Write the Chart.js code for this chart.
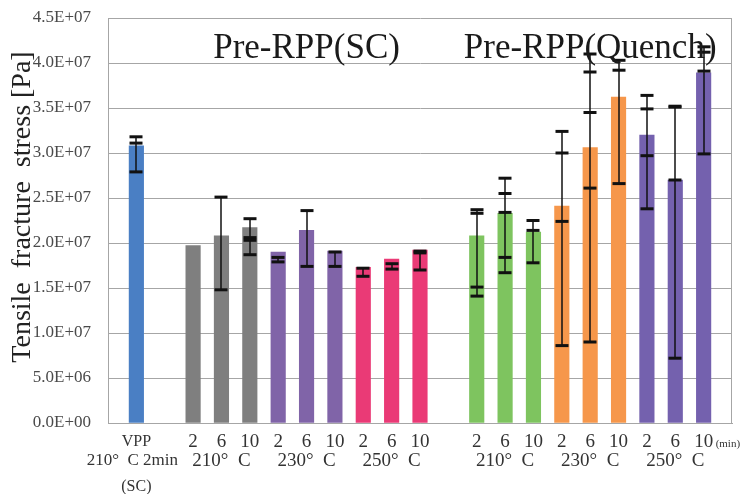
<!DOCTYPE html>
<html>
<head>
<meta charset="utf-8">
<script src="https://cdn.jsdelivr.net/npm/chart.js@4.4.1/dist/chart.umd.min.js"></script>
<style>
  body { margin: 0; background: #fff; }
  canvas { display: block; }
</style>
</head>
<body>
<canvas id="c" width="743" height="494"></canvas>
<script>
// slots: empty ends so bars sit half a slot in from the frame
const categories = ['', 'VPP', '', '2', '6', '10', '2', '6', '10', '2', '6', '10', '', '2', '6', '10', '2', '6', '10', '2', '6', '10', ''];
const stress = [null, 3.08e7, null, 1.97e7, 2.08e7, 2.17e7, 1.90e7, 2.14e7, 1.91e7, 1.73e7, 1.82e7, 1.92e7, null,
  2.08e7, 2.33e7, 2.12e7, 2.41e7, 3.06e7, 3.62e7, 3.20e7, 2.70e7, 3.89e7, null];
const errCaps = [[], [3.18e7, 3.11e7, 2.79e7], [], [], [2.51e7, 1.48e7], [2.27e7, 2.06e7, 2.03e7, 1.87e7],
  [1.84e7, 1.79e7], [2.36e7, 1.74e7], [1.90e7, 1.74e7], [1.72e7, 1.63e7], [1.77e7, 1.71e7], [1.91e7, 1.89e7, 1.70e7], [],
  [2.37e7, 2.33e7, 1.51e7, 1.41e7], [2.72e7, 2.55e7, 2.34e7, 1.84e7, 1.67e7], [2.25e7, 2.14e7, 1.78e7],
  [3.24e7, 3.00e7, 2.24e7, 0.86e7], [4.10e7, 3.90e7, 3.45e7, 2.61e7, 0.90e7], [4.03e7, 3.92e7, 2.66e7],
  [3.64e7, 3.49e7, 2.97e7, 2.38e7], [3.52e7, 3.51e7, 2.70e7, 0.72e7], [4.18e7, 4.12e7, 3.91e7, 2.99e7], []];
const barColors = ['#fff', '#4a7fc4', '#fff', '#7f7f7f', '#7f7f7f', '#7f7f7f', '#8064a8', '#8064a8', '#8064a8',
  '#ea3a76', '#ea3a76', '#ea3a76', '#fff', '#7ec45f', '#7ec45f', '#7ec45f', '#f6974b', '#f6974b', '#f6974b',
  '#7461ae', '#7461ae', '#7461ae', '#fff'];
const groupLabels = ['210°  C 2min', '210°  C', '230°  C', '250°  C', '210°  C', '230°  C', '250°  C'];
const groupAt = [1, 4, 7, 10, 14, 17, 20];
const titles = ['Pre-RPP(SC)', 'Pre-RPP(Quench)'];
const titleAt = [7, 17];
const yTicks = [0, 5e6, 1e7, 1.5e7, 2e7, 2.5e7, 3e7, 3.5e7, 4e7, 4.5e7];

const SERIF = "'Liberation Serif', 'DejaVu Serif', serif";
const GRID = '#a6a6a6';

function sci(v) {
  if (v === 0) return '0.0E+00';
  const e = Math.floor(Math.log10(v) + 1e-9);
  const m = v / Math.pow(10, e);
  return m.toFixed(1) + 'E+' + String(e).padStart(2, '0');
}

const decor = {
  id: 'decor',
  afterDatasetsDraw(chart) {
    const { ctx, chartArea: a, scales: { x, y } } = chart;
    ctx.save();
    // frame right side
    ctx.strokeStyle = GRID;
    ctx.lineWidth = 1;
    ctx.beginPath();
    ctx.moveTo(a.right - 0.5, a.top);
    ctx.lineTo(a.right - 0.5, a.bottom);
    ctx.stroke();

    // error bars
    ctx.strokeStyle = '#111';
    errCaps.forEach((caps, i) => {
      if (!caps.length) return;
      const px = Math.round(x.getPixelForValue(i));
      const hi = Math.max(...caps), lo = Math.min(...caps);
      ctx.lineWidth = 1.5;
      ctx.beginPath();
      ctx.moveTo(px, y.getPixelForValue(hi));
      ctx.lineTo(px, y.getPixelForValue(lo));
      ctx.stroke();
      ctx.lineWidth = 3;
      caps.forEach(c => {
        const py = y.getPixelForValue(c);
        ctx.beginPath();
        ctx.moveTo(px - 6.5, py);
        ctx.lineTo(px + 6.5, py);
        ctx.stroke();
      });
    });

    // titles inside plot
    ctx.fillStyle = '#1a1a1a';
    ctx.font = '35px ' + SERIF;
    ctx.textAlign = 'center';
    ctx.textBaseline = 'alphabetic';
    titles.forEach((t, k) => ctx.fillText(t, x.getPixelForValue(titleAt[k]), 58));

    // x labels
    ctx.fillStyle = '#333';
    ctx.textBaseline = 'middle';
    categories.forEach((c, i) => {
      if (!c) return;
      ctx.font = (c === 'VPP' ? '16px ' : '19px ') + SERIF;
      ctx.fillText(c, x.getPixelForValue(i), 442);
    });
    groupLabels.forEach((g, k) => {
      ctx.font = (k === 0 ? '17px ' : '19px ') + SERIF;
      ctx.fillText(g, x.getPixelForValue(groupAt[k]) + (k === 0 ? -4 : 0), 461);
    });
    ctx.font = '16px ' + SERIF;
    ctx.fillText('(SC)', x.getPixelForValue(1), 487);
    ctx.font = '11px ' + SERIF;
    ctx.textAlign = 'left';
    ctx.fillText('(min)', x.getPixelForValue(21) + 12, 444);

    // y axis title
    ctx.save();
    ctx.translate(23, 207);
    ctx.rotate(-Math.PI / 2);
    ctx.textAlign = 'center';
    ctx.fillStyle = '#222';
    ctx.font = '28px ' + SERIF;
    ctx.fillText('Tensile  fracture  stress [Pa]', 0, 0);
    ctx.restore();
    ctx.restore();
  }
};

new Chart(document.getElementById('c'), {
  type: 'bar',
  data: {
    labels: categories,
    datasets: [{ data: stress, backgroundColor: barColors, barThickness: 14.5, borderWidth: 0 }]
  },
  options: {
    responsive: false,
    animation: false,
    layout: { padding: { top: 18, right: 11, left: 0, bottom: 0 } },
    plugins: { legend: { display: false }, tooltip: { enabled: false } },
    scales: {
      x: {
        offset: false,
        grid: { display: false },
        border: { display: true, color: GRID },
        ticks: { display: false },
        afterFit(s) { s.height = 71; }
      },
      y: {
        min: 0,
        max: 4.5e7,
        afterBuildTicks(s) { s.ticks = yTicks.map(v => ({ value: v })); },
        grid: { color: GRID, lineWidth: 1, drawTicks: false },
        border: { display: true, color: GRID },
        ticks: {
          padding: 17,
          color: '#4a4a4a',
          font: { family: SERIF, size: 17 },
          callback: v => sci(v)
        },
        afterFit(s) { s.width = 108; s.paddingTop = 0; s.paddingBottom = 0; }
      }
    }
  },
  plugins: [decor]
});
</script>
</body>
</html>
